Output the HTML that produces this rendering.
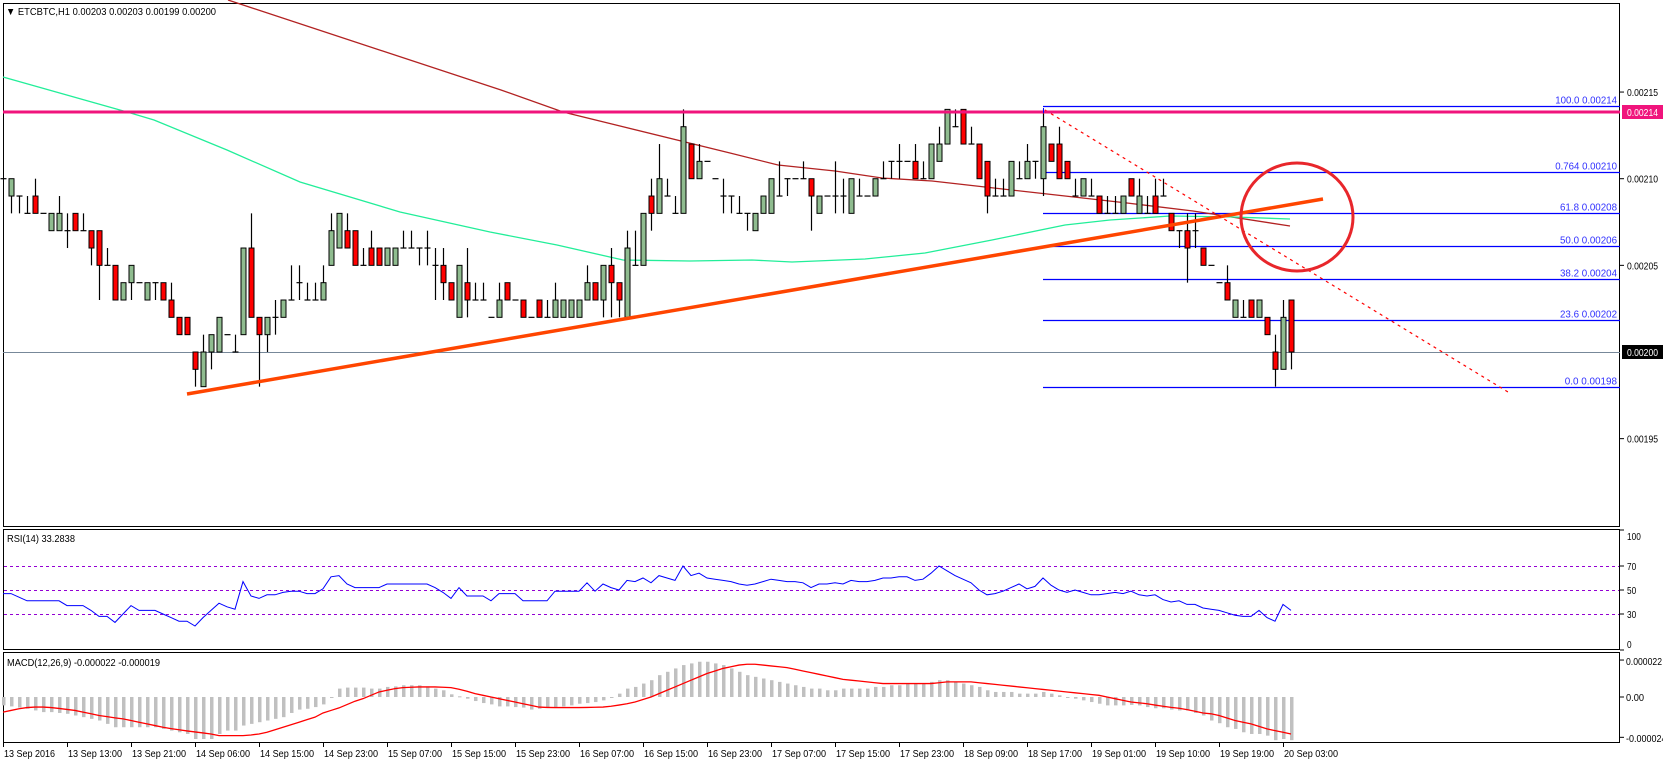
<!DOCTYPE html>
<html><head><meta charset="utf-8"><style>
html,body{margin:0;padding:0;background:#fff;}
svg{display:block;font-family:"Liberation Sans",sans-serif;font-size:10.5px;}
</style></head><body>
<svg id="chart" width="1663" height="763" viewBox="0 0 1663 763" xmlns="http://www.w3.org/2000/svg">
<rect x="0" y="0" width="1663" height="763" fill="#fff"/>
<g id="frames" fill="none" stroke="#000" stroke-width="1">
<rect x="3.5" y="3.5" width="1616" height="523"/>
<rect x="3.5" y="529.5" width="1616" height="120"/>
<rect x="3.5" y="652.5" width="1616" height="90"/>
</g>
<g id="overlays"></g>
<g id="candles"></g>
<g id="top"></g>
<g id="axes"></g>
<text x="6" y="15" textLength="210" lengthAdjust="spacingAndGlyphs">▼ ETCBTC,H1  0.00203 0.00203 0.00199 0.00200</text>
<text x="7" y="542" textLength="68" lengthAdjust="spacingAndGlyphs">RSI(14) 33.2838</text>
<text x="7" y="666" textLength="153" lengthAdjust="spacingAndGlyphs">MACD(12,26,9) -0.000022 -0.000019</text>
</svg>
<script>
// price data in units of 0.00001 above 0.00200
const opens=[10,9,9,8,9,8,7,7,7,8,7,7,7,5,5,3,4,4,3,4,4,3,2,2,0,-2,0,0,1,0,1,6,2,1,2,2,3,4,3,3,3,5,6,7,7,5,6,6,5,5,6,6,6,6,5,5,4,2,4,3,3,2,2,4,3,3,2,3,2,2,2,2,2,3,4,3,5,4,2,5,5,9,8,9,8,8,12,10,11,10,9,9,8,8,7,8,8,9,10,10,10,10,8,9,9,9,8,9,9,9,10,11,11,11,11,10,10,11,12,13,14,12,12,11,9,9,9,10,10,11,10,12,12,11,9,9,9,9,8,8,8,10,8,8,9,9,8,7,7,7,6,5,4,4,2,2,3,2,2,0,-1,3];
const closes=[10,10,9,8,8,8,8,8,7,7,7,6,5,5,3,4,5,4,4,4,3,2,1,1,-1,0,1,2,1,0,6,2,1,2,2,3,3,4,3,3,4,7,8,6,5,5,5,5,6,6,6,6,6,6,5,4,3,5,3,3,3,2,3,3,3,2,2,2,2,3,3,3,3,4,3,5,4,3,6,5,8,8,10,9,8,13,10,11,11,10,9,9,8,8,8,9,10,9,10,10,10,9,9,9,9,9,10,9,9,10,10,11,11,11,10,10,12,12,14,13,12,12,10,9,9,9,11,10,11,11,13,11,10,10,9,10,9,8,8,8,9,9,9,8,8,9,7,7,6,7,5,5,4,3,3,2,2,3,1,-1,2,0];
const highs=[10,10,9,9,10,8,8,9,8,8,8,7,7,6,5,4,5,4,4,4,4,4,2,2,0,1,1,2,1,1,6,8,2,2,3,3,5,5,4,4,5,8,8,8,7,6,7,6,6,6,7,7,6,7,6,6,4,5,6,4,4,2,4,4,3,3,2,3,3,4,3,3,3,5,4,5,6,4,7,7,8,10,12,10,9,14,12,12,11,10,10,9,9,8,8,9,10,11,10,10,11,10,9,9,11,10,10,10,9,10,11,11,12,11,12,11,12,13,14,14,14,13,12,11,10,10,11,11,12,11,14,12,13,11,10,10,10,9,9,9,9,10,10,9,10,10,8,7,8,8,6,5,4,5,3,3,3,3,2,1,3,3];
const lows=[10,8,8,8,8,8,7,7,6,7,7,5,3,5,3,3,3,4,3,3,3,2,1,1,-2,-2,-1,0,1,0,1,2,-2,0,1,2,3,3,3,3,3,5,6,6,5,5,5,5,5,5,6,6,5,5,3,3,3,2,2,3,3,2,2,3,3,2,2,2,2,2,2,2,2,3,3,2,2,2,2,5,5,7,8,9,8,8,10,10,11,10,8,8,8,7,7,8,8,9,9,10,10,7,8,9,8,8,8,9,9,9,10,10,10,11,10,10,10,11,12,13,12,12,10,8,9,9,9,10,10,10,9,11,10,10,9,9,9,8,8,8,8,9,8,8,8,9,7,6,4,6,5,5,4,3,2,2,2,2,1,-2,-1,-1];
const rsiValues=[47,47,44,41,41,41,41,41,37,37,37,33,28,28,23,30,37,33,33,33,30,27,24,24,20,27,33,39,36,34,57,45,43,46,46,48,49,49,47,47,51,61,62,55,52,52,52,52,55,55,55,55,55,55,52,48,43,52,45,45,45,41,47,47,47,41,41,41,41,49,49,49,49,56,49,55,52,50,58,57,60,56,62,60,58,70,62,64,60,59,58,57,55,54,55,57,59,58,57,57,56,52,55,55,56,55,58,57,57,58,60,60,61,61,58,59,64,70,66,62,59,56,50,46,47,49,52,55,51,53,60,54,50,48,50,48,46,46,47,48,47,49,46,45,46,42,40,41,38,38,35,34,33,31,29,28,28,33,27,24,38,33];
// MACD in units of 0.000001
const macdHist=[-5,-5.6,-6.3,-7,-8,-9,-9,-9.5,-10,-11,-12,-13,-14,-16,-18,-18,-18,-18,-18,-18,-19,-20,-21,-22,-25,-25,-25,-22,-20,-20,-17,-16,-15,-14,-13,-12,-9.5,-7.5,-7,-6,-4.4,-0.6,5,5.6,5.6,5.6,5,5,6,6.3,7,7,7,6.3,5,4,1.6,0.4,-1,-2.4,-3.6,-4.4,-5.6,-5.6,-6,-6.3,-7.5,-7,-6.3,-6,-5.6,-5,-4,-3.6,-3,-2,0,2,5,6,8,10,13,15,17,19,20,21,21,20,19,17,15,13,12,11,10,9,8,7,6,5,5,4,4,5,5,5,5,6,6,7,7,8,8,8,9,10,10,9,8,7,6,4,3,3,3,2,2,2,3,2,1,0,-1,-2,-3,-4,-5,-5,-5,-4.7,-5,-6,-6.7,-6.7,-7.5,-8,-8,-9.5,-11,-14,-15.6,-18,-19,-21,-22,-22,-23,-25.7,-25,-25.7];
const macdSignal=[-9,-8,-7,-6.3,-6,-6,-6.3,-6.8,-7.4,-8,-9,-10,-11,-11.7,-12.4,-13,-14,-15,-16,-17,-18,-18.8,-19.5,-20.2,-20.8,-21.4,-22,-23,-23,-23,-23,-22.6,-22,-21,-19.5,-18,-16.5,-15,-13.5,-12,-9.5,-8,-6.5,-4.5,-2.5,-1,1,3,4,5,5.6,5.8,6,6,6,5.8,5.6,4.6,3.4,2,1,0,-1,-2,-3,-4,-5,-6,-6.2,-6.3,-6.3,-6.3,-6.3,-6.2,-6.1,-6,-5.5,-4.8,-4,-3,-1.5,0,2,4,6,8,10,12,14,15.5,17,18,19,19.5,19.5,19,18.5,18,17.5,16.5,15.5,14.5,13.5,12.5,11.5,10.5,10,9.5,9,8.5,8,8,8,8,8,8,8,8.5,9,9,9,9,8.5,8,7.5,7,6.5,6,5.5,5,4.5,4,3.5,3,2.5,2,1.5,1,0,-1,-2,-3,-3.5,-4,-4.8,-5.5,-6.2,-6.7,-7.5,-8.5,-9.5,-10,-11,-12.5,-14,-15,-16,-17.5,-19,-20,-21,-22];
const priceTicks=["0.00215","0.00210","0.00205","0.00195"];
const priceTickVals=[15,10,5,-5];
const fibPcts=["100.0","0.764","61.8","50.0","38.2","23.6","0.0"];
const fibRatios=[1,0.764,0.618,0.5,0.382,0.236,0];
const fibPrices=["0.00214","0.00210","0.00208","0.00206","0.00204","0.00202","0.00198"];
const rsiLevels=[70,50,30];
const rsiTicks=[100,70,50,30,0];
const timeLabels=["13 Sep 2016","13 Sep 13:00","13 Sep 21:00","14 Sep 06:00","14 Sep 15:00","14 Sep 23:00","15 Sep 07:00","15 Sep 15:00","15 Sep 23:00","16 Sep 07:00","16 Sep 15:00","16 Sep 23:00","17 Sep 07:00","17 Sep 15:00","17 Sep 23:00","18 Sep 09:00","18 Sep 17:00","19 Sep 01:00","19 Sep 10:00","19 Sep 19:00","20 Sep 03:00"];

const NS="http://www.w3.org/2000/svg";
const xOf=i=>3+8*i;
const yP=p=>352-17.33*p;
const yR=v=>650-1.2*v;
const yM=v=>697-1.68*v;
function mk(parent,tag,attrs){const e=document.createElementNS(NS,tag);for(const k in attrs)e.setAttribute(k,attrs[k]);parent.appendChild(e);return e;}
const gO=document.getElementById('overlays'),gC=document.getElementById('candles'),gT=document.getElementById('top'),gA=document.getElementById('axes');

// fib lines
const fHi=yP(14.2), fLo=yP(-2);
fibRatios.forEach((r,k)=>{
  const y=Math.round(fLo-(fLo-fHi)*r)+0.5;
  const l=mk(gO,'line',{x1:1043,y1:y,x2:1620,y2:y,stroke:'#0000ff','stroke-width':1.3});
  
  
  const s=fibPcts[k]+'  '+fibPrices[k];
  const t=mk(gO,'text',{x:1617,y:y-3,'text-anchor':'end',fill:'#3030ff',textLength:(s.length-1)*4.75,lengthAdjust:'spacingAndGlyphs'});
  t.textContent=s;
  
  
});
// current price line
const cp=mk(gO,'line',{x1:3,y1:352.5,x2:1620,y2:352.5,stroke:'#778899','stroke-width':1});


// moving averages
const redMA=[[228,0],[501,90],[563,112],[730,153],[778,165],[835,171],[882,178],[932,181],[985,187],[1065,196],[1127,203],[1193,211],[1290,226]];
const grnMA=[[3,77],[127,112],[154,120],[227,150],[300,182],[400,212],[490,232],[557,245],[623,260],[690,261],[752,260],[792,262],[865,259],[925,253],[992,240],[1065,225],[1110,220],[1170,216],[1233,217],[1290,219]];
const m1=mk(gO,'polyline',{points:redMA.map(p=>p.join(',')).join(' '),fill:'none',stroke:'#b22222','stroke-width':1.3});


const m2=mk(gO,'polyline',{points:grnMA.map(p=>p.join(',')).join(' '),fill:'none',stroke:'#22ee99','stroke-width':1.3});


// candles
for(let i=0;i<opens.length;i++){
  const x=xOf(i)+0.5,o=opens[i],c=closes[i],h=highs[i],l=lows[i];
  const w=mk(gC,'line',{x1:x,y1:yP(h),x2:x,y2:yP(l),stroke:'#000','stroke-width':1.2});
  
  
  if(o===c){
    const d=mk(gC,'line',{x1:x-3,y1:yP(o),x2:x+3,y2:yP(o),stroke:'#000','stroke-width':1.2});
    
    
  } else {
    const top=yP(Math.max(o,c)),bot=yP(Math.min(o,c));
    const b=mk(gC,'rect',{x:x-2.5,y:top,width:5,height:bot-top,fill:c>o?'#8fbc8f':'#ff0000',stroke:'#000','stroke-width':1});
    
    
  }
}
// annotations
const tl=mk(gT,'line',{x1:187,y1:394,x2:1323,y2:199,stroke:'#ff4500','stroke-width':3.5});


const dl=mk(gT,'line',{x1:1045,y1:110,x2:1508,y2:392,stroke:'#ff0000','stroke-width':1.2,'stroke-dasharray':'3,4'});


const ci=mk(gT,'ellipse',{cx:1297,cy:217,rx:56,ry:54,fill:'none',stroke:'#e8262b','stroke-width':3});


const pk=mk(gT,'line',{x1:3,y1:112,x2:1620,y2:112,stroke:'#f0147c','stroke-width':3});


const fv=mk(gT,'line',{x1:1043.5,y1:108,x2:1043.5,y2:113,stroke:'#0000ff','stroke-width':1});



// RSI
rsiLevels.forEach(v=>{
  const l=mk(gO,'line',{x1:4,y1:yR(v)+0.5,x2:1619,y2:yR(v)+0.5,stroke:'#9400d3','stroke-width':1,'stroke-dasharray':'3,3'});
  
  
});
const rl=mk(gO,'polyline',{points:rsiValues.map((v,i)=>xOf(i)+','+yR(v)).join(' '),fill:'none',stroke:'#0000ff','stroke-width':1});



// MACD
macdHist.forEach((v,i)=>{
  const y0=yM(0),y1=yM(v);
  const r=mk(gO,'rect',{x:xOf(i)-1,y:Math.min(y0,y1),width:3.5,height:Math.max(1,Math.abs(y1-y0)),fill:'#c0c0c0'});
  
  
});
const sl=mk(gO,'polyline',{points:macdSignal.map((v,i)=>xOf(i)+','+yM(v)).join(' '),fill:'none',stroke:'#ff0000','stroke-width':1.3});



// axes
priceTicks.forEach((s,k)=>{
  const y=yP(priceTickVals[k]);
  mk(gA,'line',{x1:1620,y1:y,x2:1624,y2:y,stroke:'#000'});
  const t=mk(gA,'text',{x:1627,y:y+4,textLength:31,lengthAdjust:'spacingAndGlyphs'});
  t.textContent=s;
  
  
});
const pb=mk(gA,'rect',{x:1622,y:105,width:41,height:14,fill:'#f0147c'});


const pt=mk(gA,'text',{x:1627,y:116,fill:'#fff',textLength:31,lengthAdjust:'spacingAndGlyphs'});pt.textContent='0.00214';


const cb=mk(gA,'rect',{x:1622,y:345,width:41,height:14,fill:'#000'});


const ct=mk(gA,'text',{x:1627,y:356,fill:'#fff',textLength:31,lengthAdjust:'spacingAndGlyphs'});ct.textContent='0.00200';


rsiTicks.forEach(v=>{
  const y=Math.min(644,Math.max(536,yR(v)));
  mk(gA,'line',{x1:1620,y1:yR(v),x2:1624,y2:yR(v),stroke:'#000'});
  const s=String(v);
  const t=mk(gA,'text',{x:1627,y:y+4,textLength:s.length*4.6,lengthAdjust:'spacingAndGlyphs'});t.textContent=s;
  
  
});
[["0.000022",22,661],["0.00",0,697],["-0.000024",-24,738]].forEach(a=>{
  mk(gA,'line',{x1:1620,y1:yM(a[1]),x2:1624,y2:yM(a[1]),stroke:'#000'});
  const t=mk(gA,'text',{x:1626,y:a[2]+4,textLength:a[0].length*4.5,lengthAdjust:'spacingAndGlyphs'});t.textContent=a[0];
  
  
});
timeLabels.forEach((s,k)=>{
  const x=3+64*k+0.5;
  mk(gA,'line',{x1:x,y1:743,x2:x,y2:747,stroke:'#000'});
  const t=mk(gA,'text',{x:x+0.5,y:757,textLength:s.length===11?51:54,lengthAdjust:'spacingAndGlyphs'});t.textContent=s;
  
  
});
</script>
</body></html>
